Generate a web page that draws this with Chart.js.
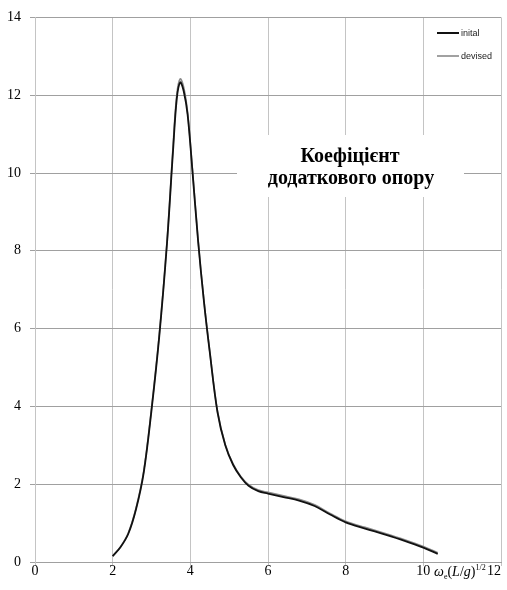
<!DOCTYPE html>
<html><head><meta charset="utf-8">
<script src="https://cdn.jsdelivr.net/npm/chart.js@4"></script>
<style>html,body{margin:0;padding:0;background:#fff;overflow:hidden}</style>
</head><body>
<canvas id="c" width="507" height="590"></canvas>
<script>
const xValues = [2.0,2.2,2.4,2.6,2.8,3.0,3.2,3.4,3.55,3.65,3.74,3.83,3.93,4.05,4.2,4.35,4.5,4.7,4.9,5.1,5.3,5.5,5.75,6.0,6.4,6.8,7.2,7.6,8.0,8.5,9.0,9.5,10.0,10.37];
const initialValues = [0.15,0.38,0.72,1.35,2.3,3.9,5.8,8.2,10.5,11.9,12.33,12.1,11.5,10.1,8.25,6.7,5.4,3.85,3.0,2.5,2.18,1.96,1.82,1.76,1.67,1.58,1.44,1.22,1.02,0.86,0.71,0.55,0.37,0.21];
const devisedValues = [0.15,0.39,0.74,1.38,2.34,3.95,5.85,8.25,10.6,12.0,12.42,12.2,11.55,10.15,8.28,6.72,5.42,3.87,3.02,2.52,2.2,1.99,1.85,1.79,1.7,1.61,1.47,1.25,1.05,0.89,0.74,0.58,0.40,0.24];
const seriesLabels = ['inital','devised'];
const seriesColors = ['#111111','#8a8a8a'];
const xTickLabels = ['0','2','4','6','8','10','12'];
const yTickLabels = ['0','2','4','6','8','10','12','14'];
const titleLines = ['Коефіцієнт','додаткового опору'];

const toPoints = (ys) => xValues.map((x, i) => ({x: x, y: ys[i]}));
const serif = '"Liberation Serif", "Times New Roman", serif';

const overlay = {
  id: 'overlay',
  beforeDatasetsDraw(chart) {
    const ctx = chart.ctx;
    ctx.save();
    ctx.fillStyle = '#ffffff';
    ctx.fillRect(237, 135, 227, 62);
    ctx.fillStyle = '#000';
    ctx.font = 'bold 20px ' + serif;
    ctx.textAlign = 'center';
    ctx.textBaseline = 'middle';
    ctx.fillText(titleLines[0], 350, 157);
    ctx.fillText(titleLines[1], 351, 179);
    ctx.restore();
  },
  afterDraw(chart) {
    const ctx = chart.ctx;
    const xs = chart.scales.x;
    ctx.save();
    ctx.fillStyle = '#000';
    ctx.font = '14px ' + serif;
    ctx.textBaseline = 'middle';
    const ty = 571;
    xTickLabels.forEach((lab, i) => {
      const px = xs.getPixelForValue(Number(lab));
      if (i === xTickLabels.length - 1) {
        ctx.textAlign = 'right';
        ctx.fillText(lab, xs.right, ty);
      } else {
        ctx.textAlign = 'center';
        ctx.fillText(lab, px, ty);
      }
    });
    ctx.textAlign = 'left';
    ctx.textBaseline = 'alphabetic';
    const base = 576;
    let cx = 434;
    const part = (txt, font, dy) => {
      ctx.font = font;
      ctx.fillText(txt, cx, base + dy);
      cx += ctx.measureText(txt).width;
    };
    part('ω', 'italic 14px ' + serif, 0);
    part('e', '8px ' + serif, 3);
    part('(', '14px ' + serif, 0);
    part('L', 'italic 14px ' + serif, 0);
    part('/', '14px ' + serif, 0);
    part('g', 'italic 14px ' + serif, 0);
    part(')', '14px ' + serif, 0);
    part('1/2', '8px ' + serif, -6);
    const lx0 = 437, lx1 = 459;
    const rows = [33, 56];
    chart.data.datasets.forEach((ds, i) => {
      ctx.strokeStyle = ds.borderColor;
      ctx.lineWidth = i === 0 ? 2 : 1.6;
      ctx.beginPath();
      ctx.moveTo(lx0, rows[i]);
      ctx.lineTo(lx1, rows[i]);
      ctx.stroke();
      ctx.fillStyle = '#222';
      ctx.font = '9px "Liberation Sans", Arial, sans-serif';
      ctx.textBaseline = 'middle';
      ctx.fillText(ds.label, 461, rows[i] + 1);
    });
    ctx.restore();
  }
};

new Chart(document.getElementById('c'), {
  type: 'line',
  data: {
    datasets: [
      { label: seriesLabels[0], data: toPoints(initialValues), borderColor: seriesColors[0], borderWidth: 1.8, pointRadius: 0, tension: 0.35, fill: false },
      { label: seriesLabels[1], data: toPoints(devisedValues), borderColor: seriesColors[1], borderWidth: 1.6, pointRadius: 0, tension: 0.35, fill: false }
    ]
  },
  options: {
    responsive: false,
    animation: false,
    devicePixelRatio: 1,
    layout: { padding: { top: 15, right: 6, left: 0, bottom: 0 } },
    plugins: { legend: { display: false }, tooltip: { enabled: false } },
    scales: {
      x: {
        type: 'linear', min: 0, max: 12,
        ticks: { display: false, stepSize: 2 },
        grid: { color: '#c4c4c4', lineWidth: 1, tickLength: 4, drawTicks: true },
        border: { color: '#a0a0a0', width: 1 },
        afterFit(s) { s.height = 28; }
      },
      y: {
        type: 'linear', min: 0, max: 14,
        ticks: { stepSize: 2, padding: 9, color: '#000', font: { family: serif, size: 14 },
          callback: (v) => yTickLabels[Math.round(v / 2)] },
        grid: { color: '#a0a0a0', lineWidth: 1, tickLength: 5, drawTicks: true },
        border: { color: '#c4c4c4', width: 1 },
        afterFit(s) { s.width = 35; }
      }
    }
  },
  plugins: [overlay]
});
</script>
</body></html>
